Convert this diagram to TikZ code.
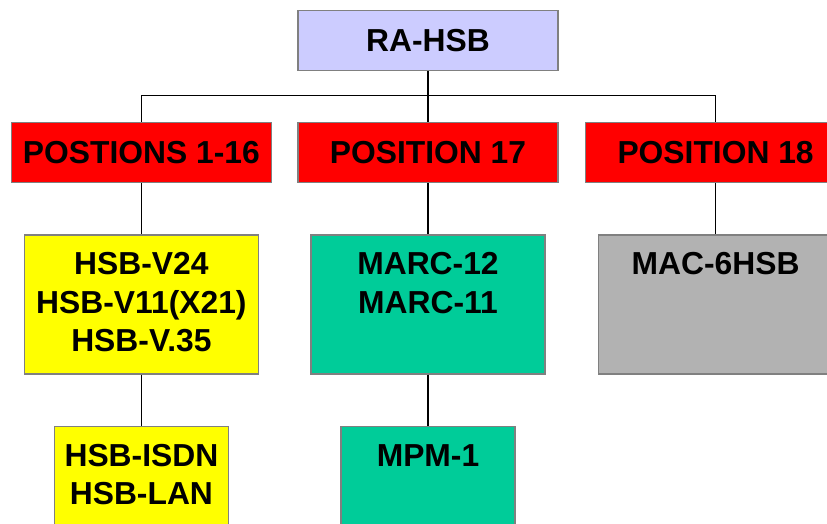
\documentclass[tikz,border=0pt]{standalone}
\usepackage{fontspec}
\setmainfont{Liberation Sans}
\usetikzlibrary{positioning}
\definecolor{edgegrey}{HTML}{808080}
\definecolor{rootblue}{HTML}{CCCCFF}
\definecolor{posred}{HTML}{FF0000}
\definecolor{cardyellow}{HTML}{FFFF00}
\definecolor{cardgreen}{HTML}{00CC99}
\definecolor{cardgrey}{HTML}{B2B2B2}
\tikzset{
  fig/.style={x=1pt,y=-1pt,font=\fontsize{31.8}{38.3}\selectfont\bfseries},
  box/.style={draw=edgegrey,line width=1.6pt,minimum width=260pt,minimum height=60pt,
              inner sep=0pt,align=center},
  card/.style={draw=edgegrey,line width=1.6pt,inner sep=0pt,align=center,
               text width=#1,text height=40pt,text depth=99pt},
  conn/.style={line width=1.2pt},
}

\begin{document}
\begin{tikzpicture}[fig]
\useasboundingbox (0,0) rectangle (827,524);
\clip (0,0) rectangle (827,524);

% --- top of the tree and the three positions
\node[box,fill=rootblue] (ra) at (428,40.5) {RA-HSB};
\node[box,fill=posred,below=50.5pt of ra]  (pos17) {POSITION 17};
\node[box,fill=posred,left=25pt of pos17]  (pos1)  {POSTIONS 1-16};
\node[box,fill=posred,right=26pt of pos17] (pos18) {POSITION 18};

\draw[conn] (ra) -- (pos17);
\draw[conn] (pos1.north) -- ++(0,-26.3) -| (pos18.north);

% --- cards under each position
\node[card=234pt,fill=cardyellow,below=50.5pt of pos1]  (v24)  {HSB-V24\\HSB-V11(X21)\\HSB-V.35};
\node[card=234pt,fill=cardgreen,below=50.5pt of pos17]  (marc) {MARC-12\\MARC-11};
\node[card=234pt,fill=cardgrey,below=50.5pt of pos18]   (mac)  {MAC-6HSB};
\node[card=174pt,fill=cardyellow,below=51pt of v24]     (isdn) {HSB-ISDN\\HSB-LAN};
\node[card=174pt,fill=cardgreen,below=51pt of marc]     (mpm)  {MPM-1};

\draw[conn] (pos1) -- (v24);
\draw[conn] (pos17) -- (marc);
\draw[conn] (pos18) -- (mac);
\draw[conn] (v24) -- (isdn);
\draw[conn] (marc) -- (mpm);

\end{tikzpicture}
\end{document}
